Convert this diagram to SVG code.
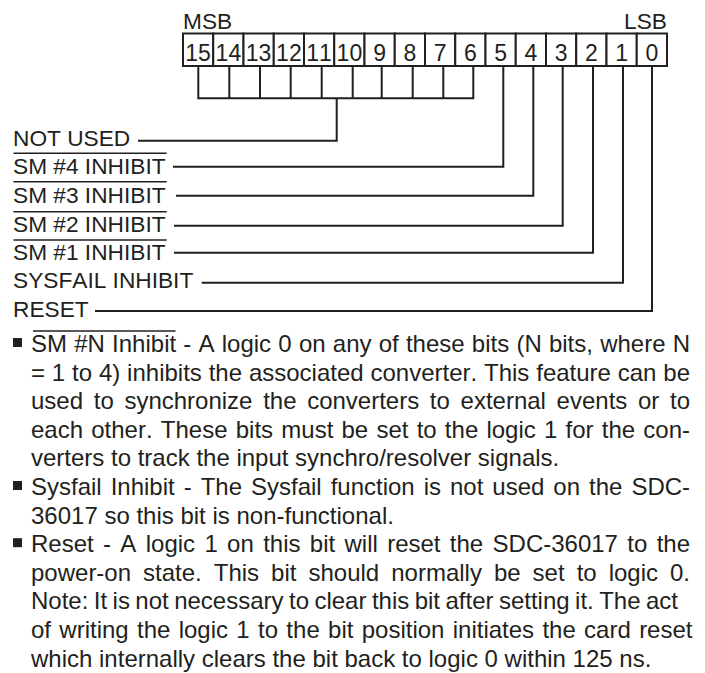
<svg xmlns="http://www.w3.org/2000/svg" width="705" height="673" viewBox="0 0 705 673">
<style>
text{font-family:"Liberation Sans",Arial,sans-serif;fill:#231f20;font-kerning:none}
.bit{font-size:23px;text-anchor:middle}
.hdr{font-size:22.7px}
.lbl{font-size:22.7px}
.body{font-size:24px}
.box{fill:#fff;stroke:#231f20;stroke-width:2}
.ln{fill:none;stroke:#231f20;stroke-width:2}
.ov{stroke:#231f20;stroke-width:1.6}
.bul{fill:#231f20}
</style>
<rect width="705" height="673" fill="#fff"/>
<g id="header">
<text class="hdr" x="183" y="28.5">MSB</text>
<text class="hdr" x="667" y="28.5" text-anchor="end">LSB</text>
</g>
<g id="register">
<g id="bit15"><rect class="box" x="183" y="33.5" width="30.25" height="32.5"/><text class="bit" x="198.1" y="60.5">15</text></g>
<g id="bit14"><rect class="box" x="213.25" y="33.5" width="30.25" height="32.5"/><text class="bit" x="228.4" y="60.5">14</text></g>
<g id="bit13"><rect class="box" x="243.5" y="33.5" width="30.25" height="32.5"/><text class="bit" x="258.6" y="60.5">13</text></g>
<g id="bit12"><rect class="box" x="273.75" y="33.5" width="30.25" height="32.5"/><text class="bit" x="288.9" y="60.5">12</text></g>
<g id="bit11"><rect class="box" x="304" y="33.5" width="30.25" height="32.5"/><text class="bit" x="319.1" y="60.5">11</text></g>
<g id="bit10"><rect class="box" x="334.25" y="33.5" width="30.25" height="32.5"/><text class="bit" x="349.4" y="60.5">10</text></g>
<g id="bit9"><rect class="box" x="364.5" y="33.5" width="30.25" height="32.5"/><text class="bit" x="379.6" y="60.5">9</text></g>
<g id="bit8"><rect class="box" x="394.75" y="33.5" width="30.25" height="32.5"/><text class="bit" x="409.9" y="60.5">8</text></g>
<g id="bit7"><rect class="box" x="425" y="33.5" width="30.25" height="32.5"/><text class="bit" x="440.1" y="60.5">7</text></g>
<g id="bit6"><rect class="box" x="455.25" y="33.5" width="30.25" height="32.5"/><text class="bit" x="470.4" y="60.5">6</text></g>
<g id="bit5"><rect class="box" x="485.5" y="33.5" width="30.25" height="32.5"/><text class="bit" x="500.6" y="60.5">5</text></g>
<g id="bit4"><rect class="box" x="515.75" y="33.5" width="30.25" height="32.5"/><text class="bit" x="530.9" y="60.5">4</text></g>
<g id="bit3"><rect class="box" x="546" y="33.5" width="30.25" height="32.5"/><text class="bit" x="561.1" y="60.5">3</text></g>
<g id="bit2"><rect class="box" x="576.25" y="33.5" width="30.25" height="32.5"/><text class="bit" x="591.4" y="60.5">2</text></g>
<g id="bit1"><rect class="box" x="606.5" y="33.5" width="30.25" height="32.5"/><text class="bit" x="621.6" y="60.5">1</text></g>
<g id="bit0"><rect class="box" x="636.75" y="33.5" width="30.25" height="32.5"/><text class="bit" x="651.9" y="60.5">0</text></g>
</g>
<g id="connectors">
<path class="ln" d="M198.3 66V98.3M229.3 66V98.3M260 66V98.3M290.7 66V98.3M321.7 66V98.3M352.7 66V98.3M381.7 66V98.3M412.7 66V98.3M443.3 66V98.3M473.3 66V98.3M197.3 98.3H474.3M336.7 98.3V140.7H138"/>
<path class="ln" d="M503.3 66V166.7H173"/>
<path class="ln" d="M533.3 66V195.7H176"/>
<path class="ln" d="M562.7 66V225.7H174"/>
<path class="ln" d="M593 66V252.7H174"/>
<path class="ln" d="M623 66V282.7H201.7"/>
<path class="ln" d="M652 66V311H95"/>
</g>
<g id="label-notused"><text class="lbl" x="13" y="145.5">NOT USED</text></g>
<g id="label-sm4"><line class="ov" x1="13.5" y1="153.3" x2="166.7" y2="153.3"/><text class="lbl" x="13" y="174.3">SM #4 INHIBIT</text></g>
<g id="label-sm3"><line class="ov" x1="13.5" y1="181.7" x2="166.7" y2="181.7"/><text class="lbl" x="13" y="203">SM #3 INHIBIT</text></g>
<g id="label-sm2"><line class="ov" x1="13.5" y1="211.7" x2="166.7" y2="211.7"/><text class="lbl" x="13" y="231.7">SM #2 INHIBIT</text></g>
<g id="label-sm1"><line class="ov" x1="13.5" y1="240" x2="166.7" y2="240"/><text class="lbl" x="13" y="259.5">SM #1 INHIBIT</text></g>
<g id="label-sysfail"><text class="lbl" x="13" y="288">SYSFAIL INHIBIT</text></g>
<g id="label-reset"><text class="lbl" x="13" y="316.7">RESET</text></g>
<g id="description">
<rect class="bul" x="13" y="338" width="9" height="9"/>
<line class="ov" x1="33" y1="331" x2="175.5" y2="331"/>
<text class="body" x="31" y="352" word-spacing="0.54">SM #N Inhibit - A logic 0 on any of these bits (N bits, where N</text>
<text class="body" x="31" y="380.6" word-spacing="0.18">= 1 to 4) inhibits the associated converter. This feature can be</text>
<text class="body" x="31" y="409.2" word-spacing="4">used to synchronize the converters to external events or to</text>
<text class="body" x="31" y="437.8" word-spacing="1.54">each other. These bits must be set to the logic 1 for the con-</text>
<text class="body" x="31" y="466.4">verters to track the input synchro/resolver signals.</text>
<rect class="bul" x="13" y="481" width="9" height="9"/>
<text class="body" x="31" y="495" word-spacing="2.31">Sysfail Inhibit - The Sysfail function is not used on the SDC-</text>
<text class="body" x="31" y="523.6">36017 so this bit is non-functional.</text>
<rect class="bul" x="13" y="538.2" width="9" height="9"/>
<text class="body" x="31" y="552.2" word-spacing="2.67">Reset - A logic 1 on this bit will reset the SDC-36017 to the</text>
<text class="body" x="31" y="580.8" word-spacing="5.34">power-on state. This bit should normally be set to logic 0.</text>
<text class="body" x="31" y="609.4" word-spacing="-1.23">Note: It is not necessary to clear this bit after setting it. The act</text>
<text class="body" x="31" y="638" word-spacing="1.65">of writing the logic 1 to the bit position initiates the card reset</text>
<text class="body" x="31" y="666.6">which internally clears the bit back to logic 0 within 125 ns.</text>
</g>
</svg>
